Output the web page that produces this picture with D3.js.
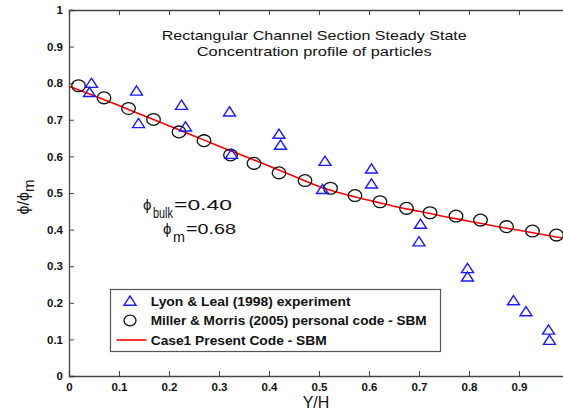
<!DOCTYPE html>
<html><head><meta charset="utf-8">
<script src="https://cdn.jsdelivr.net/npm/d3@7"></script>
<style>body{margin:0;background:#fff}svg{display:block}text{font-family:Arial,"Liberation Sans",sans-serif}</style>
</head><body>
<svg id="c" width="563" height="412"></svg>
<script>
const expX = [0.045,0.041,0.135,0.139,0.225,0.233,0.321,0.325,0.420,0.423,0.512,0.507,0.605,0.605,0.703,0.700,0.797,0.797,0.889,0.914,0.959,0.961];
const expY = [0.800,0.775,0.779,0.690,0.740,0.681,0.722,0.606,0.661,0.631,0.587,0.510,0.566,0.525,0.415,0.367,0.294,0.271,0.206,0.176,0.126,0.098];
const mmX = [0.019,0.070,0.119,0.169,0.220,0.270,0.323,0.370,0.420,0.472,0.523,0.572,0.622,0.675,0.722,0.774,0.823,0.875,0.927,0.975];
const mmY = [0.793,0.760,0.731,0.701,0.667,0.643,0.604,0.581,0.555,0.534,0.513,0.493,0.476,0.458,0.446,0.437,0.426,0.408,0.396,0.385];
const lineX = [0,0.05,0.1,0.15,0.2,0.25,0.3,0.35,0.4,0.45,0.5,0.55,0.6,0.65,0.7,0.75,0.8,0.85,0.9,0.95,1.0];
const lineY = [0.792,0.766,0.739,0.711,0.684,0.656,0.628,0.601,0.574,0.546,0.518,0.497,0.480,0.464,0.450,0.436,0.423,0.410,0.398,0.386,0.374];
const xTicks = [0,0.1,0.2,0.3,0.4,0.5,0.6,0.7,0.8,0.9];
const yTicks = [0,0.1,0.2,0.3,0.4,0.5,0.6,0.7,0.8,0.9,1.0];
const legendLabels = ["Lyon & Leal (1998) experiment","Miller & Morris (2005) personal code - SBM","Case1 Present Code - SBM"];
const legendWidths = [200,276,176];
const titleLines = ["Rectangular Channel Section Steady State","Concentration profile of particles"];

const svg = d3.select("#c");
const x = d3.scaleLinear().domain([0,1]).range([69,569]);
const y = d3.scaleLinear().domain([0,1]).range([376,10]);
const fmt = d => (d===0||d===1) ? String(d) : d.toFixed(1);

// axes
const ax = svg.append("g").attr("transform","translate(0,376)")
  .call(d3.axisBottom(x).tickValues(xTicks).tickFormat(fmt).tickSize(-5).tickPadding(7));
const axT = svg.append("g").attr("transform","translate(0,10)")
  .call(d3.axisTop(x).tickValues(xTicks).tickFormat("").tickSize(-5));
const ay = svg.append("g").attr("transform","translate(69,0)")
  .call(d3.axisLeft(y).tickValues(yTicks).tickFormat(fmt).tickSize(-5).tickPadding(6));
[ax,axT,ay].forEach(g=>{
  g.select(".domain").attr("stroke","#444").attr("stroke-width",1.3);
  g.selectAll(".tick line").attr("stroke","#444");
  g.selectAll("text").attr("font-size",11.5).attr("font-weight","bold").attr("fill","#111");
});

// red line
svg.append("path")
  .datum(lineX.map((v,i)=>[v,lineY[i]]))
  .attr("fill","none").attr("stroke","#f00").attr("stroke-width",1.6)
  .attr("d", d3.line().x(d=>x(d[0])).y(d=>y(d[1])).curve(d3.curveMonotoneX));

// circles
svg.append("g").selectAll("ellipse").data(mmX.map((v,i)=>[v,mmY[i]])).join("ellipse")
  .attr("cx",d=>x(d[0])).attr("cy",d=>y(d[1])).attr("rx",6.8).attr("ry",5.9)
  .attr("fill","none").attr("stroke","#111").attr("stroke-width",1.3);

// triangles
const tri = "M0,-5L6,4.2L-6,4.2Z";
svg.append("g").selectAll("path").data(expX.map((v,i)=>[v,expY[i]])).join("path")
  .attr("transform",d=>`translate(${x(d[0])},${y(d[1])})`).attr("d",tri)
  .attr("fill","none").attr("stroke","#1a1aff").attr("stroke-width",1.4);

// title
svg.append("text").attr("x",161.7).attr("y",39.5).attr("font-size",13.5)
  .attr("textLength",305).attr("lengthAdjust","spacingAndGlyphs")
  .attr("fill","#111").text(titleLines[0]);
svg.append("text").attr("x",196.7).attr("y",56).attr("font-size",13.5)
  .attr("textLength",235).attr("lengthAdjust","spacingAndGlyphs")
  .attr("fill","#111").text(titleLines[1]);

// annotations
function ann(x0, base, sub, subW, val, valW){
  svg.append("text").attr("x",x0).attr("y",base).attr("font-size",15).attr("fill","#111").text("ϕ");
  svg.append("text").attr("x",x0+10).attr("y",base+8).attr("font-size",14).attr("fill","#111")
    .attr("textLength",subW).attr("lengthAdjust","spacingAndGlyphs").text(sub);
  svg.append("text").attr("x",x0+11+subW).attr("y",base).attr("font-size",15).attr("fill","#111")
    .attr("textLength",valW).attr("lengthAdjust","spacingAndGlyphs").text(val);
}
ann(143, 209.5, "bulk", 20, "=0.40", 58);
ann(163, 234, "m", 12, "=0.68", 50);

// axis labels
const yl = svg.append("text").attr("transform","translate(29,197) rotate(-90)")
  .attr("text-anchor","middle").attr("font-size",16).attr("fill","#111");
yl.append("tspan").text("ϕ/ϕ");
yl.append("tspan").attr("dy",5).attr("font-size",15).text("m");
svg.append("text").attr("x",316).attr("y",408).attr("text-anchor","middle").attr("font-size",16)
  .attr("fill","#111").text("Y/H");

// legend
const lg = svg.append("g");
lg.append("rect").attr("x",110.5).attr("y",289.5).attr("width",330).attr("height",62)
  .attr("fill","#fff").attr("stroke","#555").attr("stroke-width",1.2);
const ly = [301,320.5,340];
lg.append("path").attr("transform",`translate(130,${ly[0]})`).attr("d",tri)
  .attr("fill","none").attr("stroke","#1a1aff").attr("stroke-width",1.4);
lg.append("ellipse").attr("cx",130).attr("cy",ly[1]).attr("rx",6).attr("ry",5.3)
  .attr("fill","none").attr("stroke","#111").attr("stroke-width",1.3);
lg.append("line").attr("x1",116.5).attr("x2",146.5).attr("y1",ly[2]).attr("y2",ly[2])
  .attr("stroke","#f00").attr("stroke-width",1.6);
legendLabels.forEach((t,i)=>{
  lg.append("text").attr("x",150.7).attr("y",ly[i]+4.8).attr("font-size",12.2)
    .attr("font-weight","bold").attr("fill","#111")
    .attr("textLength",legendWidths[i]).attr("lengthAdjust","spacingAndGlyphs").text(t);
});
</script>
</body></html>
